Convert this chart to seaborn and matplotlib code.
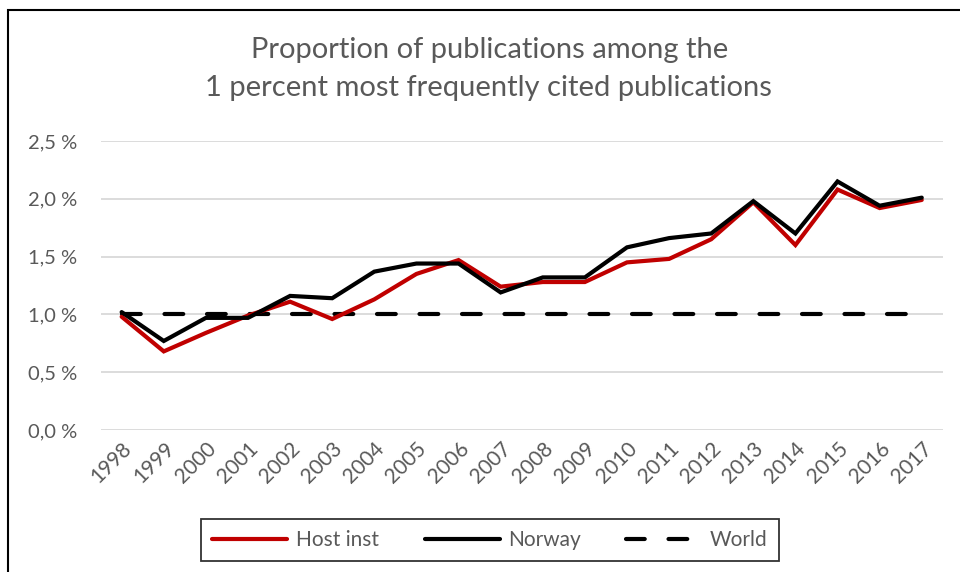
import pandas as pd
import seaborn as sns
import matplotlib.pyplot as plt
from matplotlib.patches import Rectangle

YEARS = [str(y) for y in range(1998, 2018)]
HOST_INST = [0.98, 0.68, 0.84, 0.99, 1.11, 0.96, 1.13, 1.35, 1.47, 1.24,
             1.28, 1.28, 1.45, 1.48, 1.65, 1.97, 1.60, 2.08, 1.92, 1.99]
NORWAY = [1.02, 0.77, 0.97, 0.97, 1.16, 1.14, 1.37, 1.44, 1.44, 1.19,
          1.32, 1.32, 1.58, 1.66, 1.70, 1.98, 1.70, 2.15, 1.94, 2.01]
WORLD = [1.0] * 20
Y_TICKS = [0.0, 0.5, 1.0, 1.5, 2.0, 2.5]

TEXT_GRAY = "#595959"

sns.set_theme(style="white")
plt.rcParams["font.family"] = ["Lato", "DejaVu Sans"]

df = pd.DataFrame({"year": YEARS, "Host inst": HOST_INST, "Norway": NORWAY, "World": WORLD})
df["x"] = range(len(df))

fig = plt.figure(figsize=(9.6, 5.72), dpi=100)
ax = fig.add_axes([100.6 / 960, 1 - 430 / 572, (942.8 - 100.6) / 960, (430 - 141) / 572])

lw = 3.0
sns.lineplot(data=df, x="x", y="World", ax=ax, color="black", linewidth=lw,
             label="World", dashes=False, zorder=2)
world_line = ax.lines[-1]
world_line.set_dashes((4.5, 5.7))
world_line.set_dash_capstyle("round")
sns.lineplot(data=df, x="x", y="Host inst", ax=ax, color="#C00000", linewidth=lw,
             label="Host inst", zorder=3)
sns.lineplot(data=df, x="x", y="Norway", ax=ax, color="black", linewidth=lw,
             label="Norway", zorder=4)
for ln in ax.lines:
    ln.set_solid_capstyle("round")
    ln.set_solid_joinstyle("miter")

ax.set_xlim(-0.5, len(YEARS) - 0.5)
ax.set_ylim(0, 2.5)
ax.set_xticks(range(len(YEARS)))
ax.set_xticklabels(YEARS, rotation=45, ha="right", rotation_mode="anchor")
ax.set_yticks(Y_TICKS)
ax.set_yticklabels([f"{v:.1f} %".replace(".", ",") for v in Y_TICKS])
ax.tick_params(axis="y", length=0, pad=17, labelsize=14.5, labelcolor=TEXT_GRAY)
ax.tick_params(axis="x", length=0, pad=6, labelsize=15, labelcolor=TEXT_GRAY)
ax.set_xlabel("")
ax.set_ylabel("")
ax.yaxis.grid(True, color="#D9D9D9", linewidth=1.3)
ax.set_axisbelow(True)
for s in ax.spines.values():
    s.set_visible(False)

ax.get_legend().remove()
handles, labels = ax.get_legend_handles_labels()
order = [labels.index(n) for n in ["Host inst", "Norway", "World"]]
leg = fig.legend([handles[i] for i in order], [labels[i] for i in order],
                 loc="center", bbox_to_anchor=(490 / 960, 1 - 540 / 572),
                 ncol=3, frameon=True, fancybox=False, fontsize=15,
                 handlelength=3.6, columnspacing=2.2, handletextpad=0.4,
                 borderpad=0.55, labelcolor=TEXT_GRAY)
leg.get_frame().set_edgecolor("black")
leg.get_frame().set_linewidth(1.3)

fig.text(490 / 960, 1 - 50 / 572, "Proportion of publications among the",
         ha="center", va="center", fontsize=21, color=TEXT_GRAY)
fig.text(488 / 960, 1 - 88 / 572, "1 percent most frequently cited publications",
         ha="center", va="center", fontsize=21, color=TEXT_GRAY)

fig.add_artist(Rectangle((8 / 960, -0.2), 1.2, 1.2 - 10 / 572, transform=fig.transFigure,
                         fill=False, edgecolor="black", linewidth=1.5))

fig.savefig("out.png", dpi=100)
